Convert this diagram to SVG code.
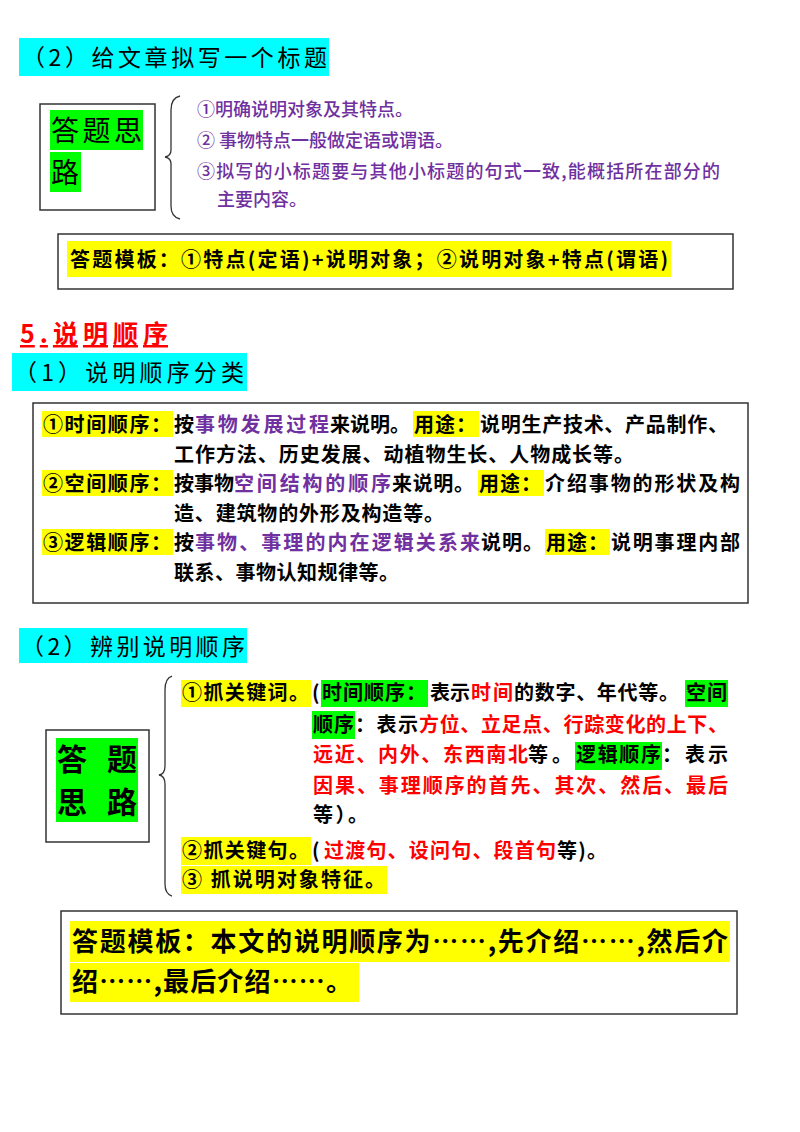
<svg xmlns="http://www.w3.org/2000/svg" width="800" height="1132" viewBox="0 0 800 1132">
<style>
text{font-family:"Noto Sans CJK SC","Noto Sans",sans-serif;fill:#000}
.h{font-size:23px}
.t{font-size:20px;font-weight:bold}
.p{fill:#7030a0}
.r{fill:#ff0000}
.pu{font-size:18px;fill:#7030a0;font-weight:500}
.box{fill:#fff;stroke:#333;stroke-width:1.5}
.cy{fill:#00ffff}.ye{fill:#ffff00}.gr{fill:#00ff00}
.br{fill:none;stroke:#333;stroke-width:1.3}
</style>
<rect width="800" height="1132" fill="#fff"/>
<g id="sec1">
<rect class="cy" x="19" y="38" width="310" height="38"/>
<text class="h" x="22" y="66" textLength="305">（2）给文章拟写一个标题</text>
<g id="node-sitl1">
<rect class="box" x="40" y="104" width="115" height="106"/>
<rect class="gr" x="50" y="110" width="93" height="40"/>
<rect class="gr" x="50" y="152" width="31" height="40"/>
<text x="51" y="141" style="font-size:28px" textLength="91">答题思</text>
<text x="51" y="183" style="font-size:28px">路</text>
</g>
<path class="br" d="M180,96 Q171,98 171,110 L171,150 Q171,156 165,157 Q171,158 171,164 L171,206 Q171,217 180,219"/>
<g id="node-points1">
<text class="pu" x="197" y="116">①明确说明对象及其特点。</text>
<text class="pu" x="197" y="147">② 事物特点一般做定语或谓语。</text>
<text class="pu" x="197" y="178" textLength="523">③拟写的小标题要与其他小标题的句式一致,能概括所在部分的</text>
<text class="pu" x="217" y="206">主要内容。</text>
</g>
<g id="node-tpl1">
<rect class="box" x="58" y="234" width="675" height="55"/>
<rect class="ye" x="67" y="241" width="604" height="36"/>
<text class="t" x="70" y="267" textLength="598">答题模板：①特点(定语)+说明对象；②说明对象+特点(谓语)</text>
</g>
</g>
<g id="sec2">
<text x="20" y="343" style="font-size:25px;fill:#ff0000;font-weight:bold;text-decoration:underline" textLength="148">5.说明顺序</text>
<rect class="cy" x="12" y="353" width="235" height="38"/>
<text class="h" x="14" y="381" textLength="230">（1）说明顺序分类</text>
<g id="node-types">
<rect class="box" x="33" y="403" width="715" height="200"/>
<rect class="ye" x="42" y="411" width="131" height="26"/>
<rect class="ye" x="413" y="411" width="66" height="26"/>
<rect class="ye" x="42" y="470" width="131" height="26"/>
<rect class="ye" x="478" y="470" width="66" height="26"/>
<rect class="ye" x="42" y="529" width="131" height="26"/>
<rect class="ye" x="545" y="529" width="65" height="26"/>
<text class="t" x="43" y="432" textLength="128">①时间顺序：</text>
<text class="t" x="174" y="432">按</text>
<text class="t p" x="195" y="432" textLength="134">事物发展过程</text>
<text class="t" x="330" y="432" textLength="80">来说明。</text>
<text class="t" x="414" y="432" textLength="62">用途：</text>
<text class="t" x="480" y="432" textLength="248">说明生产技术、产品制作、</text>
<text class="t" x="174" y="462" textLength="460">工作方法、历史发展、动植物生长、人物成长等。</text>
<text class="t" x="43" y="491" textLength="128">②空间顺序：</text>
<text class="t" x="174" y="491" textLength="60">按事物</text>
<text class="t p" x="234" y="491" textLength="157">空间结构的顺序</text>
<text class="t" x="392" y="491" textLength="82">来说明。</text>
<text class="t" x="479" y="491" textLength="62">用途：</text>
<text class="t" x="545" y="491" textLength="195">介绍事物的形状及构</text>
<text class="t" x="174" y="521" textLength="270">造、建筑物的外形及构造等。</text>
<text class="t" x="43" y="550" textLength="128">③逻辑顺序：</text>
<text class="t" x="174" y="550">按</text>
<text class="t p" x="195" y="550" textLength="285">事物、事理的内在逻辑关系来</text>
<text class="t" x="481" y="550" textLength="62">说明。</text>
<text class="t" x="546" y="550" textLength="62">用途：</text>
<text class="t" x="611" y="550" textLength="129">说明事理内部</text>
<text class="t" x="174" y="580" textLength="225">联系、事物认知规律等。</text>
</g>
</g>
<g id="sec3">
<rect class="cy" x="19" y="628" width="228" height="35"/>
<text class="h" x="21" y="655" textLength="224">（2）辨别说明顺序</text>
<g id="node-sitl2">
<rect class="box" x="46" y="730" width="103" height="112"/>
<rect class="gr" x="56" y="738" width="82" height="84"/>
<text x="57" y="770" style="font-size:30px;font-weight:bold" textLength="80">答 题</text>
<text x="57" y="813" style="font-size:30px;font-weight:bold" textLength="80">思 路</text>
</g>
<path class="br" d="M172,676 Q165,678 165,690 L165,766 Q165,774 159,775 Q165,776 165,784 L165,884 Q165,894 172,896"/>
<g id="node-points2">
<rect class="ye" x="181" y="680" width="130" height="27"/>
<rect class="gr" x="321" y="680" width="107" height="27"/>
<rect class="gr" x="685" y="680" width="43" height="27"/>
<rect class="gr" x="312" y="711" width="43" height="28"/>
<rect class="gr" x="575" y="742" width="87" height="28"/>
<rect class="ye" x="181" y="837" width="130" height="28"/>
<rect class="ye" x="181" y="866" width="206" height="28"/>
<text class="t" x="182" y="700" textLength="127">①抓关键词。</text>
<text class="t" x="312" y="700">(</text>
<text class="t" x="322" y="700" textLength="104">时间顺序：</text>
<text class="t" x="430" y="700" textLength="40">表示</text>
<text class="t r" x="471" y="700" textLength="42">时间</text>
<text class="t" x="514" y="700" textLength="165">的数字、年代等。</text>
<text class="t" x="686" y="700" textLength="41">空间</text>
<text class="t" x="313" y="732" textLength="41">顺序</text>
<text class="t" x="355" y="732" textLength="63">：表示</text>
<text class="t r" x="419" y="732" textLength="309">方位、立足点、行踪变化的上下、</text>
<text class="t r" x="313" y="762" textLength="215">远近、内外、东西南北</text>
<text class="t" x="528" y="762" textLength="44">等。</text>
<text class="t" x="576" y="762" textLength="85">逻辑顺序</text>
<text class="t" x="662" y="762" textLength="66">：表示</text>
<text class="t r" x="313" y="793" textLength="415">因果、事理顺序的首先、其次、然后、最后</text>
<text class="t" x="313" y="822" textLength="55">等）。</text>
<text class="t" x="182" y="858" textLength="127">②抓关键句。</text>
<text class="t" x="312" y="858">(</text>
<text class="t r" x="324" y="858" textLength="232">过渡句、设问句、段首句</text>
<text class="t" x="557" y="858" textLength="50">等)。</text>
<text class="t" x="182" y="887" textLength="203">③ 抓说明对象特征。</text>
</g>
<g id="node-tpl2">
<rect class="box" x="61" y="911" width="676" height="103"/>
<rect class="ye" x="70" y="921" width="660" height="41"/>
<rect class="ye" x="70" y="963" width="289" height="39"/>
<text x="72" y="951" style="font-size:26px;font-weight:bold" textLength="656">答题模板：本文的说明顺序为……,先介绍……,然后介</text>
<text x="72" y="991" style="font-size:26px;font-weight:bold" textLength="280">绍……,最后介绍……。</text>
</g>
</g>
</svg>
